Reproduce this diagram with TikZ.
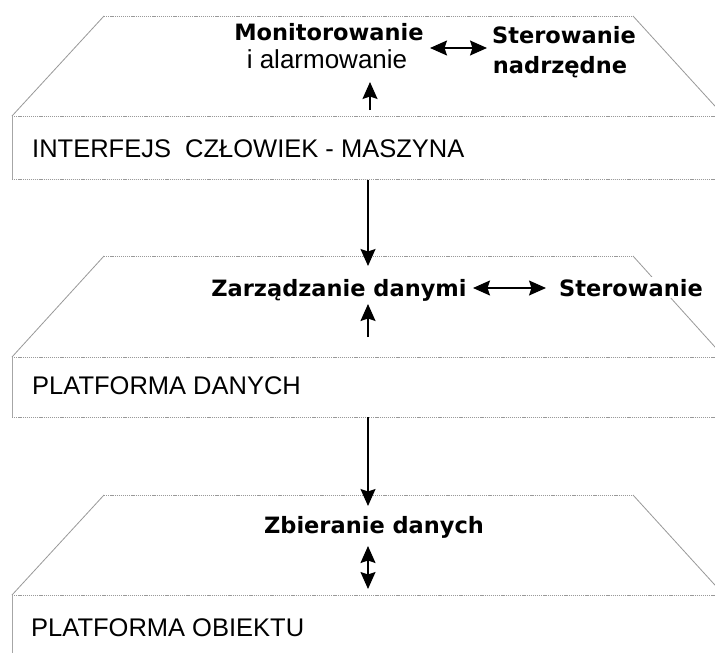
\documentclass[tikz,border=0pt]{standalone}
\usepackage{fontspec}
\setmainfont{Liberation Sans}
\newfontfamily\dvsans{DejaVu Sans}
\usetikzlibrary{arrows.meta}
\begin{document}
\begin{tikzpicture}[x=1pt,y=-1pt,
  slant/.style={draw=black!40, line width=0.8pt},
  rim/.style={draw=black!40, line width=0.9pt, dash pattern=on 1.2pt off 0.9pt},
  side/.style={draw=black!35, line width=0.9pt},
  layertitle/.style={anchor=base west, inner sep=0pt, font=\fontsize{25.5}{28}\selectfont},
  boldlbl/.style={anchor=base, inner sep=0pt, font=\dvsans\bfseries\fontsize{22.5}{26}\selectfont},
  reglbl/.style={anchor=base, inner sep=0pt, font=\fontsize{26}{29}\selectfont},
  onearrow/.style={line width=1.6pt, arrows={-Stealth[length=17pt,width=15pt,inset=2.5pt]}},
  twoarrow/.style={line width=1.6pt, arrows={Stealth[length=17pt,width=15pt,inset=2.5pt]-Stealth[length=17pt,width=15pt,inset=2.5pt]}}
]
\useasboundingbox (0,0) rectangle (715,653);
\clip (0,0) rectangle (715,653);
\fill[white] (0,0) rectangle (715,653);

% three stacked layers: trapezoid top plate and a box below it
\foreach \t/\b/\e in {16/116/179, 256/357/417, 495/595/720}{
  \draw[slant] (104,\t) -- (12,\b);
  \draw[slant] (633,\t) -- (724,\b);
  \draw[rim] (104,\t) -- (633,\t);
  \draw[rim] (12,\b) -- (740,\b);
  \draw[side] (12,\b) -- (12,\e);
  \draw[rim] (12,\e) -- (740,\e);
}

% layer titles
\node[layertitle] (hmi) at (32,157) {INTERFEJS\ \ CZŁOWIEK - MASZYNA};
\node[layertitle] (dp) at (32,394) {PLATFORMA DANYCH};
\node[layertitle] (op) at (31,636) {PLATFORMA OBIEKTU};

% top layer functions
\node[boldlbl] (mon) at (329,40) {Monitorowanie};
\node[reglbl] (alarm) at (327,68) {i alarmowanie};
\node[boldlbl] (ster1) at (564,43) {Sterowanie};
\node[boldlbl] (nadr) at (560,73) {nadrzędne};

% middle layer functions
\node[boldlbl] (zarz) at (339,296) {Zarządzanie danymi};
\node[boldlbl, fill=white, inner sep=2pt, anchor=base] (ster2) at (631,296) {Sterowanie};

% bottom layer function
\node[boldlbl] (zbier) at (374,533) {Zbieranie danych};

% arrow end points
\coordinate (m1) at (430,48);
\coordinate (s1) at (487,48);
\coordinate (up1a) at (370,110);
\coordinate (up1b) at (370,82);
\coordinate (hmibot) at (368,180);
\coordinate (dptop) at (368,266);
\coordinate (z2a) at (473,288);
\coordinate (z2b) at (546,288);
\coordinate (up2a) at (368,337);
\coordinate (up2b) at (368,304);
\coordinate (dpbot) at (368,417);
\coordinate (optop) at (368,506);
\coordinate (zb1) at (368,546);
\coordinate (zb2) at (368,589);

\draw[twoarrow] (m1) -- (s1);
\draw[onearrow] (up1a) -- (up1b);
\draw[onearrow] (hmibot) -- (dptop);
\draw[twoarrow] (z2a) -- (z2b);
\draw[onearrow] (up2a) -- (up2b);
\draw[onearrow] (dpbot) -- (optop);
\draw[twoarrow] (zb1) -- (zb2);
\end{tikzpicture}
\end{document}
